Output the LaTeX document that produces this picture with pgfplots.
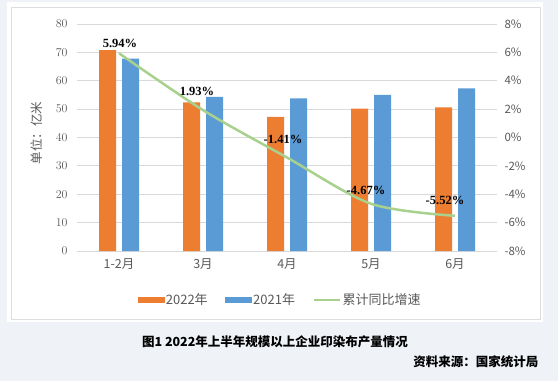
\documentclass[border=0pt]{standalone}
\usepackage{pgfplots}
\pgfplotsset{compat=1.18}
\usepackage{fontspec}
\setmainfont{Noto Sans CJK SC}
\newfontfamily\tnr{Liberation Serif}
\definecolor{bgc}{HTML}{EFF3F8}
\definecolor{framec}{HTML}{DDDDDD}
\definecolor{gridc}{HTML}{D9D9D9}
\definecolor{orangec}{HTML}{ED7D31}
\definecolor{bluec}{HTML}{5B9BD5}
\definecolor{greenc}{HTML}{A9D18E}
\definecolor{textc}{HTML}{595959}
\begin{document}
\begin{tikzpicture}[x=1bp,y=1bp]
\fill[bgc] (0,0) rectangle (558,381);
\fill[white] (7,59) rectangle (543,379);
\draw[framec, line width=0.8bp] (11,62) rectangle (540,374);
\begin{axis}[
  at={(77bp,130bp)}, anchor=south west,
  scale only axis, width=420bp, height=227bp,
  xmin=-0.5, xmax=4.5, ymin=0, ymax=80,
  xtick={0,1,2,3,4}, xticklabels={1-2月,3月,4月,5月,6月},
  ytick={0,10,...,80},
  ymajorgrids, grid style={gridc, line width=0.8bp},
  axis line style={draw=none},
  major tick length=0pt,
  ybar=6bp, bar width=17bp,
  tick label style={font=\fontsize{11.5bp}{13bp}\selectfont, text=textc},
  xticklabel style={font=\fontsize{12.5bp}{14bp}\selectfont, text=textc, yshift=-4bp},
  yticklabel style={xshift=-6bp},
  ylabel={单位：亿米},
  ylabel style={font=\fontsize{12.5bp}{14bp}\selectfont, text=textc, at={(axis description cs:-0.095,0.52)}, anchor=center},
  clip=false,
]
\addplot[fill=orangec, draw=none] coordinates {(0,70.8) (1,52.4) (2,47.3) (3,50.2) (4,50.6)};
\addplot[fill=bluec, draw=none] coordinates {(0,67.8) (1,54.3) (2,53.8) (3,55.0) (4,57.3)};
\end{axis}
\begin{axis}[
  at={(77bp,130bp)}, anchor=south west,
  scale only axis, width=420bp, height=227bp,
  xmin=-0.5, xmax=4.5, ymin=-8, ymax=8,
  axis x line=none,
  axis y line*=right,
  axis line style={draw=none},
  major tick length=0pt,
  ytick={-8,-6,...,8},
  yticklabels={-8\%,-6\%,-4\%,-2\%,0\%,2\%,4\%,6\%,8\%},
  yticklabel style={font=\fontsize{11.5bp}{13bp}\selectfont, text=textc, xshift=4bp},
  clip=false,
  legend columns=3,
  legend style={draw=none, fill=none, at={(0.4833,-0.216)}, anchor=center,
    font=\fontsize{13bp}{14bp}\selectfont, text=textc,
    /tikz/every even column/.append style={column sep=16bp},
    nodes={inner xsep=1.5bp},
    inner sep=0pt},
  legend cell align=left,
]
\addlegendimage{legend image code/.code={\fill[orangec] (0bp,-2.5bp) rectangle (26bp,2.5bp);}}
\addlegendentry{2022年}
\addlegendimage{legend image code/.code={\fill[bluec] (0bp,-2.5bp) rectangle (26bp,2.5bp);}}
\addlegendentry{2021年}
\addplot[greenc, line width=2.5bp, smooth, tension=0.5, mark=none,
  legend image code/.code={\draw[greenc, line width=2.5bp] (0bp,0bp) -- (26bp,0bp);}]
  coordinates {(0,5.94) (1,1.93) (2,-1.41) (3,-4.67) (4,-5.52)};
\addlegendentry{累计同比增速}
\begin{scope}[every node/.style={anchor=base, font=\tnr\bfseries\fontsize{12.5bp}{14bp}\selectfont, text=black, inner sep=0pt}]
\node[xshift=1bp, yshift=6bp] at (axis cs:0,5.94) {5.94\%};
\node[xshift=-6bp, yshift=15bp] at (axis cs:1,1.93) {1.93\%};
\node[xshift=-4bp, yshift=14bp] at (axis cs:2,-1.41) {-1.41\%};
\node[xshift=-5bp, yshift=9bp] at (axis cs:3,-4.67) {-4.67\%};
\node[xshift=-10bp, yshift=11bp] at (axis cs:4,-5.52) {-5.52\%};
\end{scope}
\end{axis}
\node[font=\bfseries\fontsize{12.5bp}{14bp}\selectfont, text=black] at (275,39) {图1 2022年上半年规模以上企业印染布产量情况};
\node[font=\bfseries\fontsize{12.5bp}{14bp}\selectfont, text=black, anchor=east] at (542,19) {资料来源：国家统计局};
\end{tikzpicture}
\end{document}
